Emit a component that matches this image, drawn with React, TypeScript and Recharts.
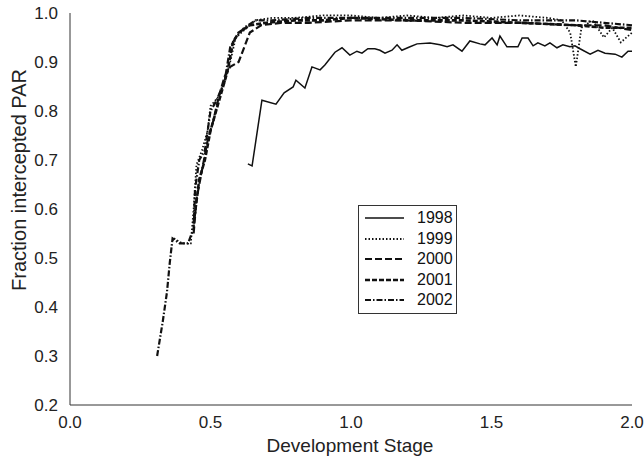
import React from "react";
import { LineChart, Line, XAxis, YAxis } from "recharts";

const xTicks = [0, 0.5, 1.0, 1.5, 2.0];
const yTicks = [0.2, 0.3, 0.4, 0.5, 0.6, 0.7, 0.8, 0.9, 1.0];

const s1998 = [
  [0.633, 0.692], [0.648, 0.688], [0.683, 0.822], [0.733, 0.814], [0.762, 0.837],
  [0.794, 0.849], [0.804, 0.863], [0.836, 0.847], [0.861, 0.89], [0.89, 0.884],
  [0.907, 0.894], [0.943, 0.92], [0.968, 0.929], [0.996, 0.914], [1.021, 0.922],
  [1.039, 0.918], [1.06, 0.927], [1.085, 0.927], [1.103, 0.924], [1.121, 0.918],
  [1.146, 0.924], [1.164, 0.935], [1.181, 0.924], [1.21, 0.931], [1.235, 0.937],
  [1.281, 0.939], [1.317, 0.935], [1.342, 0.931], [1.363, 0.935], [1.395, 0.922],
  [1.423, 0.943], [1.459, 0.937], [1.477, 0.935], [1.502, 0.949], [1.52, 0.935],
  [1.53, 0.953], [1.555, 0.931], [1.594, 0.931], [1.609, 0.949], [1.63, 0.949],
  [1.648, 0.933], [1.665, 0.939], [1.69, 0.933], [1.708, 0.939], [1.733, 0.929],
  [1.754, 0.935], [1.779, 0.931], [1.797, 0.933], [1.815, 0.927], [1.851, 0.916],
  [1.879, 0.924], [1.904, 0.918], [1.94, 0.916], [1.964, 0.91], [1.986, 0.922],
  [2.0, 0.922],
];

const s1999 = [
  [0.37, 0.54], [0.4, 0.53], [0.43, 0.53], [0.44, 0.6], [0.45, 0.69], [0.47, 0.72],
  [0.49, 0.76], [0.5, 0.81], [0.53, 0.83], [0.55, 0.86], [0.57, 0.9], [0.59, 0.95],
  [0.62, 0.965], [0.66, 0.985], [0.72, 0.99], [0.8, 0.99], [0.9, 0.995], [1.0, 0.995],
  [1.1, 0.99], [1.2, 0.995], [1.3, 0.99], [1.4, 0.995], [1.5, 0.99], [1.6, 0.995],
  [1.7, 0.99], [1.75, 0.985], [1.78, 0.96], [1.8, 0.89], [1.82, 0.97], [1.86, 0.985],
  [1.9, 0.95], [1.93, 0.97], [1.96, 0.94], [2.0, 0.96],
];

const s2000 = [
  [0.44, 0.55], [0.45, 0.62], [0.47, 0.68], [0.49, 0.74], [0.51, 0.78], [0.53, 0.83],
  [0.55, 0.87], [0.57, 0.89], [0.6, 0.9], [0.62, 0.93], [0.64, 0.96], [0.68, 0.975],
  [0.75, 0.98], [0.85, 0.98], [1.0, 0.985], [1.2, 0.985], [1.4, 0.98], [1.6, 0.98],
  [1.8, 0.975], [1.9, 0.975], [2.0, 0.965],
];

const s2001 = [
  [0.44, 0.57], [0.46, 0.66], [0.48, 0.7], [0.5, 0.76], [0.52, 0.8], [0.54, 0.84],
  [0.56, 0.88], [0.58, 0.94], [0.6, 0.96], [0.64, 0.975], [0.7, 0.98], [0.8, 0.985],
  [0.9, 0.985], [1.0, 0.99], [1.2, 0.985], [1.4, 0.985], [1.6, 0.98], [1.8, 0.975],
  [1.9, 0.97], [2.0, 0.97],
];

const s2002 = [
  [0.31, 0.3], [0.33, 0.37], [0.345, 0.43], [0.355, 0.49], [0.365, 0.54], [0.39, 0.53],
  [0.42, 0.53], [0.44, 0.56], [0.445, 0.64], [0.46, 0.7], [0.48, 0.72], [0.5, 0.8],
  [0.52, 0.82], [0.55, 0.86], [0.57, 0.93], [0.59, 0.95], [0.62, 0.97], [0.66, 0.985],
  [0.72, 0.985], [0.85, 0.99], [1.0, 0.99], [1.2, 0.99], [1.4, 0.99], [1.6, 0.985],
  [1.8, 0.985], [1.9, 0.98], [2.0, 0.975],
];

const toRows = (a: number[][]) => a.map(([x, y]) => ({ x, y }));

const series = [
  { name: "1998", data: s1998, dash: undefined as string | undefined, width: 1.5 },
  { name: "1999", data: s1999, dash: "1.5 2", width: 1.8 },
  { name: "2000", data: s2000, dash: "7 3", width: 2.2 },
  { name: "2001", data: s2001, dash: "5 2", width: 2.6 },
  { name: "2002", data: s2002, dash: "6 2 1.5 2", width: 2.2 },
];

const FONT = "'Liberation Sans', Arial, sans-serif";

const LegendBox = () => (
  <div
    style={{
      position: "absolute",
      left: 358,
      top: 205,
      width: 99,
      border: "1px solid #333",
      background: "#fff",
      padding: "2px 0",
      fontFamily: FONT,
      fontSize: 16,
      color: "#111",
      boxSizing: "border-box",
    }}
  >
    {series.map((s) => (
      <div key={s.name} style={{ display: "flex", alignItems: "center", height: 20.5 }}>
        <svg width={58} height={10} style={{ display: "block" }}>
          <line
            x1={6}
            x2={45}
            y1={5}
            y2={5}
            stroke="#111"
            strokeWidth={s.width}
            strokeDasharray={s.dash}
          />
        </svg>
        <span>{s.name}</span>
      </div>
    ))}
  </div>
);

export default function App() {
  return (
    <div style={{ position: "absolute", left: 0, top: 0, width: 644, height: 456 }}>
      <LineChart
        width={644}
        height={456}
        margin={{ top: 13, right: 12, left: 0, bottom: 0 }}
      >
        <XAxis
          dataKey="x"
          type="number"
          domain={[0, 2]}
          ticks={xTicks}
          tickFormatter={(v: number) => v.toFixed(1)}
          allowDuplicatedCategory={false}
          height={51}
          tickLine={false}
          tickSize={4}
          tickMargin={7}
          stroke="#333"
          tick={{ fill: "#222", fontSize: 17, fontFamily: FONT }}
          label={{
            content: () => (
              <text
                x={350}
                y={452}
                textAnchor="middle"
                fill="#222"
                fontSize={19}
                fontFamily={FONT}
              >
                Development Stage
              </text>
            ),
          }}
        />
        <XAxis xAxisId="top" orientation="top" type="number" domain={[0, 2]} height={0} tick={false} tickLine={false} stroke="#777" strokeWidth={2} />
        <YAxis
          dataKey="y"
          type="number"
          domain={[0.2, 1.0]}
          ticks={yTicks}
          tickFormatter={(v: number) => v.toFixed(1)}
          width={70}
          tickLine={false}
          tickSize={4}
          tickMargin={8}
          stroke="#333"
          tick={{ fill: "#222", fontSize: 17, fontFamily: FONT }}
          label={{
            content: () => (
              <text
                x={26}
                y={180}
                transform="rotate(-90 26 180)"
                textAnchor="middle"
                fill="#222"
                fontSize={20}
                fontFamily={FONT}
              >
                Fraction intercepted PAR
              </text>
            ),
          }}
        />
        <YAxis yAxisId="right" orientation="right" type="number" domain={[0.2, 1.0]} width={0} tick={false} tickLine={false} stroke="#777" />
        {series.map((s) => (
          <Line
            key={s.name}
            name={s.name}
            data={toRows(s.data)}
            dataKey="y"
            type="linear"
            stroke="#111"
            strokeWidth={s.width}
            strokeDasharray={s.dash}
            dot={false}
            isAnimationActive={false}
          />
        ))}
      </LineChart>
      <LegendBox />
    </div>
  );
}
